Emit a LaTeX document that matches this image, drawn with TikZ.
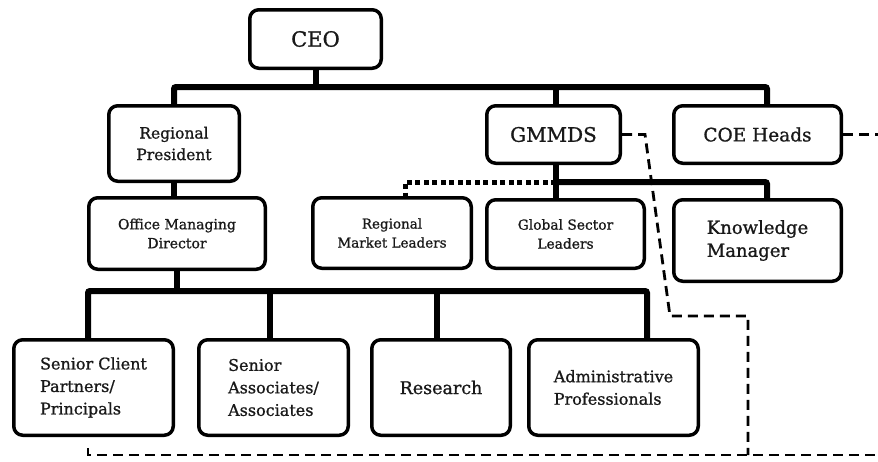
\documentclass[tikz,border=0pt]{standalone}
\usepackage{fontspec}
\setmainfont{DejaVu Serif}[BoldFont={DejaVu Serif},BoldFeatures={FakeBold=1}]
\usetikzlibrary{calc,positioning}

\begin{document}
\begin{tikzpicture}[
  x=1pt,y=-1pt,
  box/.style={rectangle,draw=black,line width=3.5pt,rounded corners=9pt,inner sep=2pt,align=center,fill=white},
  bar/.style={line width=6pt,rounded corners=2pt},
  dashline/.style={line width=2.8pt,dash pattern=on 10pt off 6pt},
  dotline/.style={line width=5pt,dash pattern=on 5pt off 3.5pt},
  every node/.append style={text=black!90},
  ]
  \useasboundingbox (0,0) rectangle (878,461);

  %top
  \node (ceo) [box,minimum width=131.5pt,minimum height=58.5pt,font=\fontsize{21}{25}\selectfont\bfseries] at (315.5,39) {CEO};

  %second row
  \node (rp) [box,minimum width=130.5pt,minimum height=75.5pt,font=\fontsize{15.5}{21.5}\selectfont\bfseries] at (174,143.5) {Regional\\President};
  \node (gmmds) [box,minimum width=133.5pt,minimum height=57.5pt,font=\fontsize{20}{24}\selectfont\bfseries] at (553.5,134.5) {GMMDS};
  \node (coe) [box,minimum width=167.5pt,minimum height=57.5pt,font=\fontsize{18.5}{22}\selectfont\bfseries] at (757.5,134.5) {COE Heads};

  %third row
  \node (omd) [box,minimum width=176.5pt,minimum height=71.5pt,font=\fontsize{14}{19}\selectfont\bfseries] at (177,233.5) {Office Managing\\Director};
  \node (rml) [box,minimum width=158.5pt,minimum height=70.5pt,font=\fontsize{13.5}{19}\selectfont\bfseries] at (392,233) {Regional\\Market Leaders};
  \node (gsl) [box,minimum width=157.5pt,minimum height=68.5pt,font=\fontsize{13.8}{19}\selectfont\bfseries] at (565.5,234) {Global Sector\\Leaders};
  \node (km) [box,minimum width=167.5pt,minimum height=81.5pt,align=left,font=\fontsize{18}{23}\selectfont\bfseries] at (757.5,240.5) {Knowledge\\Manager};

  %bottom row
  \node (scp) [box,minimum width=159.5pt,minimum height=95.5pt,align=left,font=\fontsize{16}{22.5}\selectfont\bfseries] at (93.5,387.5) {Senior Client\\Partners/\\Principals};
  \node (sa) [box,minimum width=149.5pt,minimum height=95.5pt,align=left,font=\fontsize{16}{22.5}\selectfont\bfseries] at (273.5,387.5) {Senior\\Associates/\\Associates};
  \node (res) [box,minimum width=138.5pt,minimum height=95.5pt,font=\fontsize{17.5}{22}\selectfont\bfseries] at (441,387.5) {Research};
  \node (adm) [box,minimum width=169.5pt,minimum height=95.5pt,align=left,font=\fontsize{16}{22.5}\selectfont\bfseries] at (613.5,387.5) {Administrative\\Professionals};

  %ceo bar
  \draw[bar] (ceo.south) -- ++(0,17) coordinate (top_bar);
  \draw[bar] (rp.north) |- (top_bar) -| ([xshift=9.5pt]coe.north);
  \draw[bar] ([xshift=2.5pt]gmmds.north) -- ([xshift=2.5pt]gmmds.north |- top_bar);
  \draw[bar] (rp.south) -- (rp.south |- omd.north);

  %gmmds bar
  \draw[bar] ([xshift=2.5pt]gmmds.south) -- ([xshift=2.5pt]gmmds.south |- gsl.north);
  \draw[bar] ([xshift=2.5pt]gmmds.south) ++(0,17) coordinate (gm_bar) -| ([xshift=9.5pt]km.north);
  \draw[dotline] (gm_bar) -| ([xshift=13pt]rml.north);

  %office bar
  \draw[bar] (omd.south) -- ++(0,20) coordinate (omd_bar);
  \draw[bar] ([xshift=-5.5pt]scp.north) |- (omd_bar) -| ([xshift=33.5pt]adm.north);
  \draw[bar] ([xshift=-3.5pt]sa.north) -- ([xshift=-3.5pt]sa.north |- omd_bar);
  \draw[bar] ([xshift=-4pt]res.north) -- ([xshift=-4pt]res.north |- omd_bar);

  %dashed links
  \coordinate (rim_top) at (878,134);
  \coordinate (rim_bot) at (878,455);
  \coordinate (gm_turn) at (645,134);
  \coordinate (gm_low) at (670,316);
  \coordinate (gm_drop) at (748,316);
  \draw[dashline] (coe.east) -- (coe.east -| rim_top);
  \draw[dashline] (gmmds.east) -- (gmmds.east -| gm_turn) -- (gm_low) -- (gm_drop) -- (gm_drop |- rim_bot);
  \draw[dashline] ($(scp.south)+(-5.5,11)$) |- (rim_bot);

\end{tikzpicture}
\end{document}
